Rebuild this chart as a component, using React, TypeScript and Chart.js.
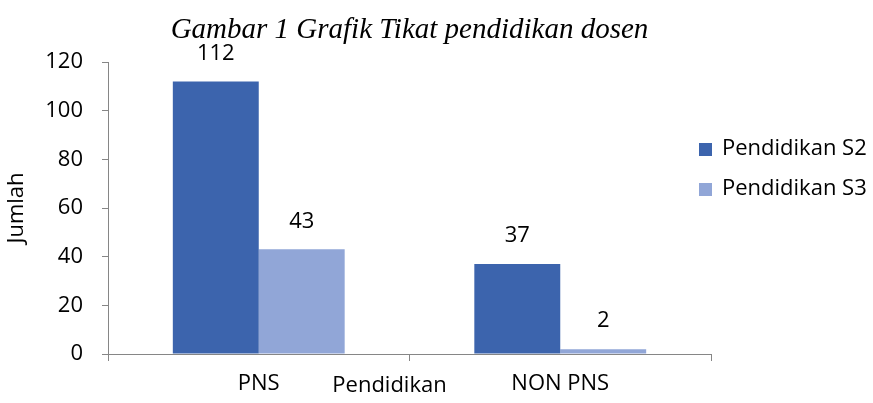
import React, { useEffect, useRef } from "react";
import { Chart, registerables } from "chart.js";

Chart.register(...registerables);

const categories = ["PNS", "NON PNS"];
const seriesNames = ["Pendidikan S2", "Pendidikan S3"];
const seriesS2 = [112, 37];
const seriesS3 = [43, 2];
const colorS2 = "#3c64ad";
const colorS3 = "#91a6d7";
const yMin = 0;
const yMax = 120;
const yStep = 20;
const titleText = "Gambar 1 Grafik Tikat pendidikan dosen";
const xTitleText = "Pendidikan";
const yTitleText = "Jumlah";

const FONT = '"Open Sans"';
const FS = 22;
const AXIS = "#868686";

const overlayPlugin = {
  id: "overlay",
  afterDraw(chart: any) {
    const ctx = chart.ctx;
    const area = chart.chartArea;
    ctx.save();
    ctx.fillStyle = "#000";
    ctx.textAlign = "center";
    ctx.textBaseline = "middle";
    ctx.font = `${FS}px ${FONT}`;
    chart.data.datasets.forEach((ds: any, i: number) => {
      const meta = chart.getDatasetMeta(i);
      meta.data.forEach((bar: any, j: number) => {
        ctx.fillText(String(ds.data[j]), bar.x, bar.y - 28);
      });
    });
    // title
    ctx.font = `italic 29px "Liberation Serif"`;
    ctx.fillText(titleText, (area.left + area.right) / 2, 30);
    // x axis title
    const xs = chart.scales.x;
    ctx.font = `${FS}px ${FONT}`;
    const mid = (xs.getPixelForValue(0) + xs.getPixelForValue(1)) / 2 - 20;
    ctx.fillText(xTitleText, mid, 386);
    // legend
    ctx.textAlign = "left";
    chart.data.datasets.forEach((ds: any, i: number) => {
      const y = area.top + 87 + i * 40;
      const x = area.right - 12;
      ctx.fillStyle = ds.backgroundColor;
      ctx.fillRect(x, y - 6, 13, 13);
      ctx.fillStyle = "#000";
      ctx.fillText(ds.label, x + 23, y);
    });
    ctx.restore();
  },
};

export default function App() {
  const ref = useRef<HTMLCanvasElement | null>(null);
  useEffect(() => {
    if (!ref.current) return;
    const chart = new Chart(ref.current, {
      type: "bar",
      data: {
        labels: categories,
        datasets: [
          { label: seriesNames[0], data: seriesS2, backgroundColor: colorS2, categoryPercentage: 0.57, barPercentage: 1.0 },
          { label: seriesNames[1], data: seriesS3, backgroundColor: colorS3, categoryPercentage: 0.57, barPercentage: 1.0 },
        ],
      },
      options: {
        responsive: false,
        animation: false,
        devicePixelRatio: 1,
        layout: { padding: { top: 62, right: 162, left: 0, bottom: 0 } },
        plugins: {
          legend: { display: false },
          title: { display: false },
          tooltip: { enabled: false },
        },
        scales: {
          x: {
            grid: { offset: true, drawOnChartArea: false, drawTicks: true, tickLength: 7, color: AXIS },
            border: { color: AXIS },
            ticks: { color: "#000", font: { family: FONT, size: FS }, padding: 10 },
            afterFit: (s: any) => { s.height = 49; },
          },
          y: {
            min: yMin,
            max: yMax,
            ticks: { stepSize: yStep, color: "#000", font: { family: FONT, size: FS }, padding: 19 },
            grid: { drawOnChartArea: false, drawTicks: true, tickLength: 6, color: AXIS },
            border: { color: AXIS },
            title: { display: true, text: yTitleText, color: "#000", font: { family: FONT, size: FS }, padding: { top: 4, bottom: 0 } },
            afterFit: (s: any) => { s.width = 108; },
          },
        },
      },
      plugins: [overlayPlugin],
    });
    return () => chart.destroy();
  }, []);
  return (
    <div style={{ position: "fixed", left: 0, top: 0, width: 873, height: 403, background: "#fff" }}>
      <canvas ref={ref} width={873} height={403} style={{ display: "block" }} />
    </div>
  );
}
